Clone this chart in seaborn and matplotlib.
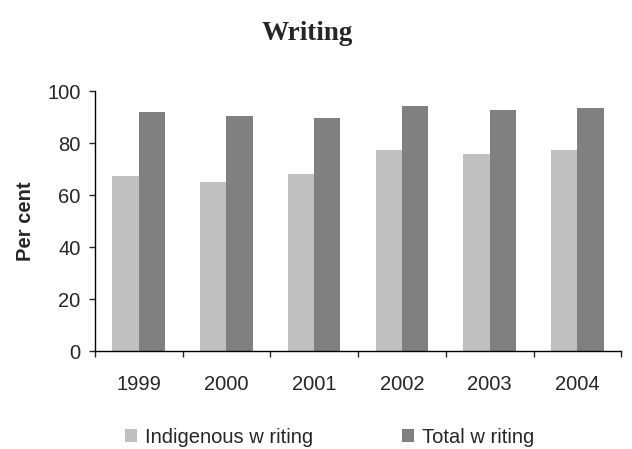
import numpy as np
import pandas as pd
import seaborn as sns
import matplotlib.pyplot as plt
from matplotlib.patches import Patch

# values
years = ['1999', '2000', '2001', '2002', '2003', '2004']
indigenous = [67.2, 64.9, 68.0, 77.2, 75.7, 77.2]
total = [91.9, 90.4, 89.6, 94.2, 92.7, 93.4]
series = ['Indigenous w riting', 'Total w riting']
colors = ['#C0C0C0', '#808080']

df = pd.DataFrame({
    'year': years * 2,
    'value': indigenous + total,
    'series': [series[0]] * len(years) + [series[1]] * len(years),
})

sns.set_style('white')
plt.rcParams['font.family'] = ['Liberation Sans', 'DejaVu Sans']
fs = 14.5

fig = plt.figure(figsize=(6.32, 4.49), dpi=100)
ax = fig.add_axes([0.150, 0.218, 0.833, 0.579])

sns.barplot(data=df, x='year', y='value', hue='series', palette=colors,
            width=0.6, gap=0, ax=ax, legend=False, saturation=1,
            edgecolor='none')

ax.set_ylim(0, 100)
ax.set_xlim(-0.5, len(years) - 0.5)
ax.set_yticks(np.arange(0, 101, 20))
ax.set_xticks(range(len(years)))
ax.set_xticklabels(years)
ax.set_xticks(np.arange(-0.5, len(years), 1), minor=True)
ax.tick_params(axis='x', which='major', length=0, pad=17, labelsize=fs)
ax.tick_params(axis='x', which='minor', length=4.3, width=1, direction='out', bottom=True)
ax.tick_params(axis='y', length=4.3, width=1, direction='out', left=True, pad=6, labelsize=fs)

for side in ['top', 'right']:
    ax.spines[side].set_visible(False)
for side in ['left', 'bottom']:
    ax.spines[side].set_color('black')
    ax.spines[side].set_linewidth(1)

ax.set_xlabel('')
ax.set_ylabel('Per cent', fontsize=fs, fontweight='bold', labelpad=9)

fig.suptitle('Writing', x=0.487, y=0.953, fontsize=19.5, fontweight='bold',
             family=['Liberation Serif', 'DejaVu Serif'])

handles = [Patch(facecolor=c, edgecolor='none') for c in colors]
fig.legend(handles, series, loc='lower center', bbox_to_anchor=(0.521, -0.035),
           ncol=2, frameon=False, fontsize=fs, handlelength=0.6,
           handleheight=0.6, handletextpad=0.4, columnspacing=4.4)

fig.savefig('out.png', dpi=100)
